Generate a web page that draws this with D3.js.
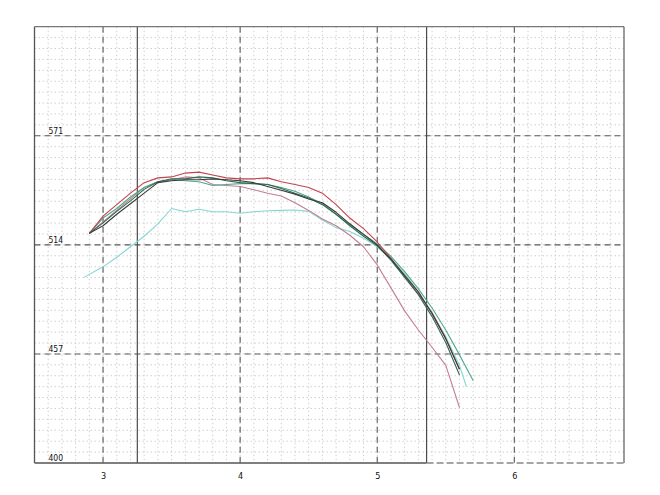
<!DOCTYPE html>
<html><head><meta charset="utf-8">
<script src="https://cdn.jsdelivr.net/npm/d3@7"></script>
<style>
html,body{margin:0;padding:0;background:#fff;}
svg{display:block;}
text{font-family:"DejaVu Sans Condensed","Liberation Sans Narrow","DejaVu Sans",sans-serif;}
</style></head>
<body>
<script>
// ---- data ----
const xTicks = [3, 4, 5, 6];
const yTicks = [400, 457, 514, 571];
const markers = [3.25, 5.36];

const rpm = [2.9,3.0,3.1,3.2,3.3,3.4,3.5,3.6,3.7,3.8,3.9,4.0,4.1,4.2,4.3,4.4,4.5,4.6,4.7,4.8,4.9,5.0,5.1,5.2,5.3,5.4,5.5,5.6,5.7];
const cyanRpm = [2.86,3.0,3.1,3.2,3.3,3.4,3.5,3.6,3.7,3.8,3.9,4.0,4.1,4.2,4.3,4.4,4.5,4.6,4.7,4.8,4.9,5.0,5.1,5.2,5.3,5.4,5.5,5.6,5.65];

const redVals   = [520,529,535,541,546.5,549,549.5,551.5,552,550.5,549,548.5,548.5,549,547,545.5,544,541,535,528,522.5,515.5,507,497.5,488.5,478.5,465,449];
const pinkVals  = [520,526,532,538,544,547,548,549.5,549,545.5,545,544.5,542.8,541,539.5,536,532,527.5,524,519,513,503.5,491.5,479.5,469.5,460.5,451,429];
const darkVals  = [520,524,530,535.5,541,546.5,547.5,548,548,548.5,548,547.5,546.5,544.5,542.5,540.5,538,536,531,525,519.5,514,506.5,498,489.5,478,465,449];
const greenVals = [520,525.5,531.5,537,543,547,548.5,548.5,549.5,549,547.5,546.5,546,545.5,543.5,541,538.5,535,530,524,518.5,513.5,506,497,488,476.5,463,446];
const tealVals  = [520,528,533,539,544,547,548,547.5,547,545,545.5,546,546,545.5,544,542,539,535.5,530,524.5,519.5,514.5,508,500,491,481,469.5,456.5,443];
const cyanVals  = [497,502.5,507.5,513,518.5,525,533,531.3,532.6,531.3,531.3,530.5,531.3,531.8,532,532.2,531.5,527,523,521,517.5,513,507,499,489.5,478.5,466,451,440];

const series = [
  {name:"cyan",  xs:cyanRpm, ys:cyanVals,  color:"#86d6d4"},
  {name:"pink",  xs:rpm,     ys:pinkVals,  color:"#c27d93"},
  {name:"teal",  xs:rpm,     ys:tealVals,  color:"#4fa98c"},
  {name:"red",   xs:rpm,     ys:redVals,   color:"#c2434f"},
  {name:"green", xs:rpm,     ys:greenVals, color:"#2f6a52"},
  {name:"dark",  xs:rpm,     ys:darkVals,  color:"#3a3a3a"}
];

// ---- layout ----
const W = 660, H = 495;
const L = 34.5, R = 624, T = 26.7, B = 463;
const x = d3.scaleLinear().domain([2.5, 6.8]).range([L, R]);
const y = d3.scaleLinear().domain([400, 628]).range([B, T]);

const svg = d3.select("body").append("svg").attr("width", W).attr("height", H);

// minor grid
const minorX = d3.range(26, 68).map(i => i / 10);
const minorY = d3.range(1, 40).map(i => 400 + i * 5.7);
const g = svg.append("g");
g.selectAll("line.mx").data(minorX).join("line")
  .attr("x1", d => x(d)).attr("x2", d => x(d)).attr("y1", T).attr("y2", B)
  .attr("stroke", "#c4c4c4").attr("stroke-width", 0.8).attr("stroke-dasharray", "1.5,2.5");
g.selectAll("line.my").data(minorY).join("line")
  .attr("x1", L).attr("x2", R).attr("y1", d => y(d)).attr("y2", d => y(d))
  .attr("stroke", "#c4c4c4").attr("stroke-width", 0.8).attr("stroke-dasharray", "1.5,2.5");

// major dashed
g.selectAll("line.Mx").data(xTicks).join("line")
  .attr("x1", d => x(d)).attr("x2", d => x(d)).attr("y1", T).attr("y2", B)
  .attr("stroke", "#5a5a5a").attr("stroke-width", 1.1).attr("stroke-dasharray", "6,4");
g.selectAll("line.My").data(yTicks.slice(1)).join("line")
  .attr("x1", L).attr("x2", R).attr("y1", d => y(d)).attr("y2", d => y(d))
  .attr("stroke", "#5a5a5a").attr("stroke-width", 1.1).attr("stroke-dasharray", "6,4");

// solid markers
g.selectAll("line.mk").data(markers).join("line")
  .attr("x1", d => x(d)).attr("x2", d => x(d)).attr("y1", T).attr("y2", B)
  .attr("stroke", "#4a4a4a").attr("stroke-width", 1.2);

// frame
svg.append("line").attr("x1", L).attr("x2", R).attr("y1", T).attr("y2", T).attr("stroke", "#777").attr("stroke-width", 1.3);
svg.append("line").attr("x1", L).attr("x2", L).attr("y1", T).attr("y2", B).attr("stroke", "#555").attr("stroke-width", 1.3);
svg.append("line").attr("x1", R).attr("x2", R).attr("y1", T).attr("y2", B).attr("stroke", "#666").attr("stroke-width", 1.3);
svg.append("line").attr("x1", L).attr("x2", x(markers[1])).attr("y1", B).attr("y2", B).attr("stroke", "#555").attr("stroke-width", 1.4);
svg.append("line").attr("x1", x(markers[1])).attr("x2", R).attr("y1", B).attr("y2", B).attr("stroke", "#888").attr("stroke-width", 1.3).attr("stroke-dasharray", "7,3");

// lines
const line = d3.line().x(d => x(d[0])).y(d => y(d[1]));
svg.append("g").selectAll("path").data(series).join("path")
  .attr("d", s => line(s.ys.map((v, i) => [s.xs[i], v])))
  .attr("fill", "none").attr("stroke", s => s.color).attr("stroke-width", 1.1)
  .attr("stroke-linejoin", "round");

// axes labels
const xAxis = d3.axisBottom(x).tickValues(xTicks).tickSize(0).tickPadding(10).tickFormat(d3.format("d"));
const xg = svg.append("g").attr("transform", `translate(0,${B})`).call(xAxis);
xg.select(".domain").remove();
xg.selectAll("text").attr("font-size", 9).attr("fill", "#111").attr("font-family", null);

const yAxis = d3.axisRight(y).tickValues(yTicks).tickSize(0).tickPadding(14).tickFormat(d3.format("d"));
const yg = svg.append("g").attr("transform", `translate(${L},0)`).call(yAxis);
yg.select(".domain").remove();
yg.selectAll("text").attr("font-size", 8.5).attr("fill", "#111").attr("dy", "-0.3em").attr("font-family", null);
</script>
</body></html>
